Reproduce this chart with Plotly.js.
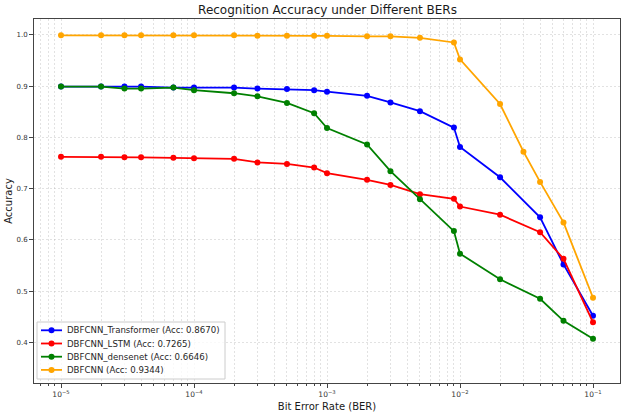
<!DOCTYPE html>
<html>
<head>
<meta charset="utf-8">
<script src="https://cdn.plot.ly/plotly-3.0.1.min.js"></script>
<style>
  html, body { margin: 0; padding: 0; background: #ffffff; }
  #chart { width: 624px; height: 413px; }
</style>
</head>
<body>
<div id="chart"></div>
<script>
// Bit error rates tested (DBFCNN has one extra point at 3e-2)
const berShort = [1e-5, 2e-5, 3e-5, 4e-5, 7e-5, 1e-4, 2e-4, 3e-4, 5e-4, 8e-4, 1e-3,
                  2e-3, 3e-3, 5e-3, 9e-3, 1e-2, 2e-2, 4e-2, 6e-2, 1e-1];
const berFull  = [1e-5, 2e-5, 3e-5, 4e-5, 7e-5, 1e-4, 2e-4, 3e-4, 5e-4, 8e-4, 1e-3,
                  2e-3, 3e-3, 5e-3, 9e-3, 1e-2, 2e-2, 3e-2, 4e-2, 6e-2, 1e-1];

// Accuracy per model
const accTransformer = [0.899, 0.899, 0.899, 0.899, 0.897, 0.897, 0.897, 0.895, 0.894, 0.892, 0.889,
                        0.881, 0.868, 0.851, 0.819, 0.781, 0.722, 0.644, 0.552, 0.452];
const accLSTM        = [0.762, 0.762, 0.761, 0.761, 0.760, 0.759, 0.758, 0.751, 0.748, 0.741, 0.730,
                        0.717, 0.707, 0.689, 0.680, 0.665, 0.649, 0.615, 0.563, 0.439];
const accDensenet    = [0.899, 0.899, 0.895, 0.895, 0.897, 0.892, 0.886, 0.880, 0.867, 0.847, 0.818,
                        0.786, 0.734, 0.679, 0.617, 0.573, 0.523, 0.485, 0.442, 0.407];
const accDBFCNN      = [0.999, 0.999, 0.999, 0.999, 0.999, 0.999, 0.999, 0.998, 0.998, 0.998, 0.998,
                        0.997, 0.997, 0.994, 0.985, 0.952, 0.865, 0.772, 0.713, 0.634, 0.487];

const seriesNames = [
  'DBFCNN_Transformer (Acc: 0.8670)',
  'DBFCNN_LSTM (Acc: 0.7265)',
  'DBFCNN_densenet (Acc: 0.6646)',
  'DBFCNN (Acc: 0.9344)'
];
const seriesColors = ['#0000ff', '#ff0000', '#008000', '#ffa500'];
const seriesX = [berShort, berShort, berShort, berFull];
const seriesY = [accTransformer, accLSTM, accDensenet, accDBFCNN];

// Decade tick labels and minor ticks on the log axis
const majorTicks = [1e-5, 1e-4, 1e-3, 1e-2, 1e-1];
const majorText  = ['10<sup>−5</sup>', '10<sup>−4</sup>', '10<sup>−3</sup>', '10<sup>−2</sup>', '10<sup>−1</sup>'];
const minorTicks = [];
for (let e = -6; e <= -2; e++) {
  for (let m = 2; m <= 9; m++) {
    const v = m * Math.pow(10, e);
    if (v > 6.3e-6 && v < 0.158) minorTicks.push(v);
  }
}

const FONT = 'DejaVu Sans, sans-serif';
const GRID = 'rgba(165,165,165,0.4)';
const GRID_DASH = '2px,2px';

// plot-area geometry in pixels, used to place the legend box
const M = { l: 34, r: 4, t: 19, b: 30 };
const W = 624, H = 413;
const PW = W - M.l - M.r, PH = H - M.t - M.b;
const px2x = px => (px - M.l) / PW;
const py2y = py => (M.t + PH - py) / PH;

const traces = seriesNames.map((name, i) => ({
  type: 'scatter',
  mode: 'lines+markers',
  name: name,
  x: seriesX[i],
  y: seriesY[i],
  line: { color: seriesColors[i], width: 1.8 },
  marker: { color: seriesColors[i], size: 6 },
  showlegend: false
}));

// legend drawn as a framed box with sample line, marker and label for each series
const shapes = [{
  type: 'rect', xref: 'paper', yref: 'paper',
  x0: px2x(37), x1: px2x(225), y0: py2y(379), y1: py2y(322),
  line: { color: '#cccccc', width: 1 },
  fillcolor: 'rgba(255,255,255,0.8)',
  layer: 'above'
}];
const annotations = [];
seriesNames.forEach((name, i) => {
  const rowY = py2y(330.3 + i * 13.2);
  shapes.push({
    type: 'line', xref: 'paper', yref: 'paper',
    x0: px2x(41), x1: px2x(62), y0: rowY, y1: rowY,
    line: { color: seriesColors[i], width: 1.8 }, layer: 'above'
  });
  shapes.push({
    type: 'circle', xref: 'paper', yref: 'paper',
    xsizemode: 'pixel', ysizemode: 'pixel',
    xanchor: px2x(51.5), yanchor: rowY,
    x0: -3, x1: 3, y0: -3, y1: 3,
    fillcolor: seriesColors[i], line: { color: seriesColors[i], width: 0 }, layer: 'above'
  });
  annotations.push({
    xref: 'paper', yref: 'paper', x: px2x(65), y: rowY,
    xanchor: 'left', yanchor: 'middle', showarrow: false,
    text: name, font: { family: FONT, size: 8.6, color: '#262626' }
  });
});

const layout = {
  width: W, height: H,
  margin: M,
  paper_bgcolor: '#ffffff',
  plot_bgcolor: '#ffffff',
  font: { family: FONT, color: '#262626' },
  title: {
    text: 'Recognition Accuracy under Different BERs',
    font: { family: FONT, size: 12, color: '#1a1a1a' },
    x: px2x(327.5) * PW / W + M.l / W, xanchor: 'center',
    y: 1 - 10 / H, yanchor: 'middle'
  },
  xaxis: {
    type: 'log',
    range: [-5.203, -0.797],
    tickmode: 'array', tickvals: majorTicks, ticktext: majorText,
    ticks: 'outside', ticklen: 4, tickwidth: 1, tickcolor: '#444',
    tickfont: { family: FONT, size: 7.5, color: '#333' },
    showline: true, mirror: true, linecolor: '#444', linewidth: 1,
    showgrid: true, gridcolor: GRID, griddash: GRID_DASH, gridwidth: 0.8,
    minor: {
      tickmode: 'array', tickvals: minorTicks,
      ticks: 'outside', ticklen: 2, tickcolor: '#444',
      showgrid: true, gridcolor: GRID, griddash: GRID_DASH, gridwidth: 0.8
    },
    zeroline: false,
    title: { text: 'Bit Error Rate (BER)', font: { family: FONT, size: 10, color: '#1a1a1a' }, standoff: 4 }
  },
  yaxis: {
    range: [0.3207, 1.0308],
    tick0: 0, dtick: 0.1, tickformat: '.1f',
    ticks: 'outside', ticklen: 4, tickwidth: 1, tickcolor: '#444',
    tickfont: { family: FONT, size: 7, color: '#333' },
    showline: true, mirror: true, linecolor: '#444', linewidth: 1,
    showgrid: true, gridcolor: GRID, griddash: GRID_DASH, gridwidth: 0.8,
    zeroline: false,
    title: { text: 'Accuracy', font: { family: FONT, size: 10, color: '#1a1a1a' }, standoff: 1 }
  },
  shapes: shapes,
  annotations: annotations
};

Plotly.newPlot('chart', traces, layout, { displayModeBar: false, staticPlot: true });
</script>
</body>
</html>
